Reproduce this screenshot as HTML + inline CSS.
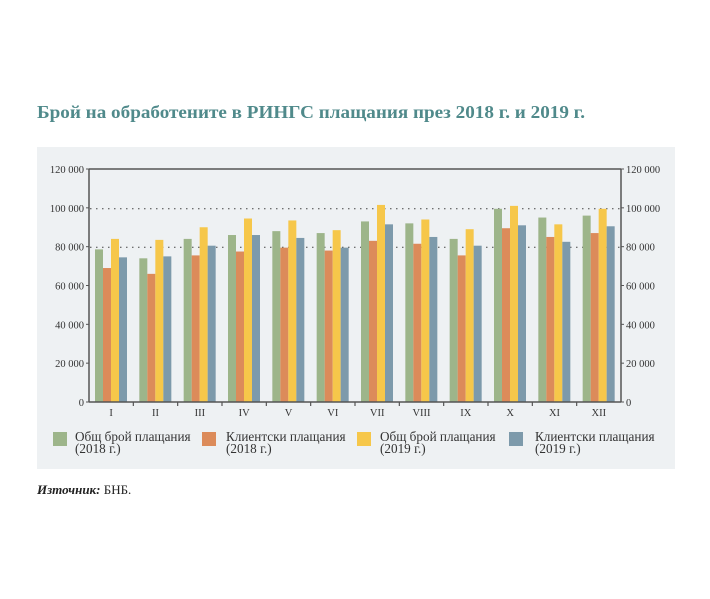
<!DOCTYPE html>
<html><head><meta charset="utf-8"><style>
html,body{margin:0;padding:0;background:#fff;width:710px;height:599px;overflow:hidden}
svg{display:block}
</style></head><body>
<svg width="710" height="599" viewBox="0 0 710 599" xmlns="http://www.w3.org/2000/svg" font-family="Liberation Serif, DejaVu Serif, serif">
<text x="37" y="118" font-size="18" font-weight="bold" fill="#508a8b" textLength="548" lengthAdjust="spacingAndGlyphs">Брой на обработените в РИНГС плащания през 2018 г. и 2019 г.</text>
<rect x="37" y="147" width="638" height="322" fill="#eef1f3"/>
<g stroke="#444" stroke-width="1" stroke-dasharray="1.5,4.5">
<line x1="90" y1="208.7" x2="620" y2="208.7"/>
<line x1="90" y1="247.3" x2="620" y2="247.3"/>
</g>
<g id="bars"></g>
<g stroke="#555" stroke-width="1.5" fill="none">
<line x1="89" y1="169" x2="621" y2="169"/>
<line x1="89" y1="169" x2="89" y2="402"/>
<line x1="621" y1="169" x2="621" y2="402"/>
<line x1="89" y1="402" x2="621" y2="402"/>
</g>
<g font-size="10.5" fill="#333" text-anchor="end" id="yl"></g>
<g font-size="10.5" fill="#333" id="yr"></g>
<g font-size="10.5" fill="#333" text-anchor="middle" id="xl"></g>
<g font-size="13.2" fill="#333">
<rect x="53" y="432" width="14" height="14" fill="#9db58a"/>
<text x="75" y="441">Общ брой плащания</text><text x="75" y="453">(2018 г.)</text>
<rect x="202" y="432" width="14" height="14" fill="#dc8b5a"/>
<text x="226" y="441">Клиентски плащания</text><text x="226" y="453">(2018 г.)</text>
<rect x="357" y="432" width="14" height="14" fill="#f6c74a"/>
<text x="380" y="441">Общ брой плащания</text><text x="380" y="453">(2019 г.)</text>
<rect x="509" y="432" width="14" height="14" fill="#7d9aab"/>
<text x="535" y="441">Клиентски плащания</text><text x="535" y="453">(2019 г.)</text>
</g>
<text x="37" y="494" font-size="13" fill="#222"><tspan font-weight="bold" font-style="italic">Източник:</tspan> БНБ.</text>
</svg>
<script>
const d=[[78.6,69,84,74.5],[74,66,83.5,75],[84,75.5,90,80.5],[86,77.5,94.5,86],[88,79.5,93.5,84.5],[87,78,88.5,79.5],[93,83,101.5,91.5],[92,81.5,94,85],[84,75.5,89,80.5],[99.5,89.5,101,91],[95,85,91.5,82.5],[96,87,99.5,90.5]];
const c=['#9db58a','#dc8b5a','#f6c74a','#7d9aab'];
const ns='http://www.w3.org/2000/svg';
const g=document.getElementById('bars');
const gw=532/12, rom=['I','II','III','IV','V','VI','VII','VIII','IX','X','XI','XII'];
function el(p,t,a,txt){const e=document.createElementNS(ns,t);for(const k in a)e.setAttribute(k,a[k]);if(txt)e.textContent=txt;p.appendChild(e);}
d.forEach((v,i)=>{const x0=89+i*gw+6;v.forEach((val,j)=>{const h=val*1000*233/120000;el(g,'rect',{x:x0+j*8,y:402-h,width:8,height:h,fill:c[j]});});
el(document.getElementById('xl'),'text',{x:89+i*gw+gw/2,y:416},rom[i]);
if(i>0)el(g,'line',{x1:89+i*gw,y1:402,x2:89+i*gw,y2:406,stroke:'#555','stroke-width':1.2});});
const lab=['0','20 000','40 000','60 000','80 000','100 000','120 000'];
lab.forEach((l,k)=>{const y=402-k*233/6;el(document.getElementById('yl'),'text',{x:84,y:y+4},l);el(document.getElementById('yr'),'text',{x:626,y:y+4},l);
el(g,'line',{x1:86,y1:y,x2:89,y2:y,stroke:'#555'});el(g,'line',{x1:621,y1:y,x2:624,y2:y,stroke:'#555'});});
</script>
</body></html>
